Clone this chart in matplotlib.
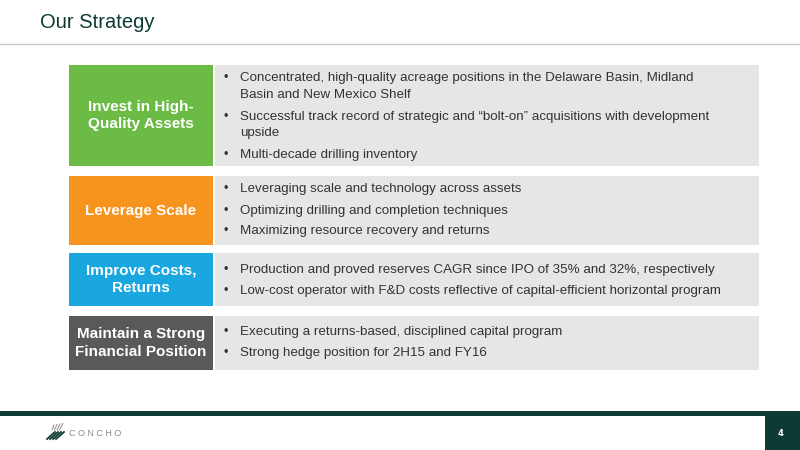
import matplotlib
matplotlib.use("Agg")
import matplotlib.pyplot as plt
from matplotlib.patches import Rectangle

categories = ["Invest in High-\nQuality Assets", "Leverage Scale", "Improve Costs,\nReturns", "Maintain a Strong\nFinancial Position"]
colors = ["#6cbb47", "#f7941d", "#1aa7e0", "#58595b"]
bullets = [
    [["Concentrated, high-quality acreage positions in the Delaware Basin, Midland", "Basin and New Mexico Shelf"],
     ["Successful track record of strategic and \u201cbolt-on\u201d acquisitions with development", "upside"],
     ["Multi-decade drilling inventory"]],
    [["Leveraging scale and technology across assets"],
     ["Optimizing drilling and completion techniques"],
     ["Maximizing resource recovery and returns"]],
    [["Production and proved reserves CAGR since IPO of 35% and 32%, respectively"],
     ["Low-cost operator with F&D costs reflective of capital-efficient horizontal program"]],
    [["Executing a returns-based, disciplined capital program"],
     ["Strong hedge position for 2H15 and FY16"]],
]
rows = [(65, 166), (176, 245), (253, 306), (316, 370)]
line_y = [[78, 95, 117, 133, 155], [189, 211, 231], [270, 291], [332, 353]]

fig = plt.figure(figsize=(8, 4.5), dpi=100)
ax = fig.add_axes([0, 0, 1, 1])
ax.set_xlim(0, 800); ax.set_ylim(450, 0); ax.axis("off")

ax.text(40, 22, "Our Strategy", fontsize=14.5, color="#0d3b34", va="center", ha="left", family="Liberation Sans")
ax.plot([0, 800], [44, 44], color="#c8c8c8", lw=1)

for i, (cat, col, bl, (y0, y1), ly) in enumerate(zip(categories, colors, bullets, rows, line_y)):
    ax.add_patch(Rectangle((69, y0), 144, y1 - y0, color=col, lw=0))
    ax.add_patch(Rectangle((215, y0), 544, y1 - y0, color="#e6e6e6", lw=0))
    ax.text(141, (y0 + y1) / 2, cat, ha="center", va="center", color="white", fontsize=11,
            fontweight="bold", family="Liberation Sans", linespacing=1.3)
    k = 0
    for b in bl:
        ax.text(226, ly[k], "\u2022", ha="center", va="center", fontsize=9, color="#333333", family="Liberation Sans")
        for ln in b:
            ax.text(240, ly[k], ln, ha="left", va="center", fontsize=9.6, color="#333333", family="Liberation Sans")
            k += 1

ax.add_patch(Rectangle((0, 411), 800, 5, color="#0d3b34", lw=0))
ax.add_patch(Rectangle((765, 416), 35, 34, color="#0d3b34", lw=0))
ax.text(781, 433, "4", color="white", fontsize=6, ha="center", va="center", fontweight="bold")
for j in range(4):
    ax.plot([47 + j * 3, 55 + j * 3], [439, 432], color="#0d3b34", lw=1.3)
for j in range(4):
    ax.plot([52 + j * 2.5, 54 + j * 3], [430, 425 - j * 0.5], color="#8a8a8a", lw=0.7)
ax.text(69, 433, "C O N C H O", color="#8a8a8a", fontsize=6.5, ha="left", va="center", family="Liberation Sans")

fig.savefig("out.png", dpi=100)
